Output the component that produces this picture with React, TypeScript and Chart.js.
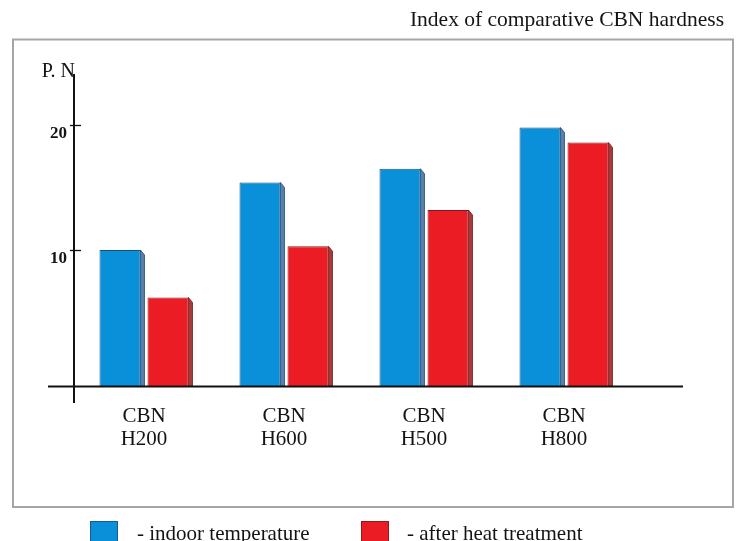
import React, { useEffect, useRef } from "react";
import { Chart, registerables } from "chart.js";

Chart.register(...registerables);

// ---------- data ----------
const TITLE = "Index of comparative CBN hardness";
const Y_AXIS_LABEL = "P. N";
const CATEGORIES = [
  ["CBN", "H200"],
  ["CBN", "H600"],
  ["CBN", "H500"],
  ["CBN", "H800"],
];
const SERIES_NAMES = ["- indoor temperature", "- after heat treatment"];
const INDOOR = [10.0, 15.4, 16.5, 19.8];
const AFTER_HEAT = [6.2, 10.3, 13.2, 18.6];
const Y_TICKS = [10, 20];
const Y_MIN = -2.16;
const Y_MAX = 24;
const BAR_BASE = -0.88;

// ---------- style ----------
const FONT = "'Liberation Serif', 'Times New Roman', Times, serif";
const FACE_COLORS = ["#0a8fd9", "#ec1c24"];
const EDGE_COLORS = ["#1d4f7e", "#7d1b1b"];
const SIDE_COLORS = ["#5a7fa8", "#a8393a"];
const TEXT_COLOR = "#141414";

export default function App() {
  const ref = useRef<HTMLCanvasElement>(null);

  useEffect(() => {
    const canvas = ref.current;
    if (!canvas) return;

    const framePlugin = {
      id: "frame",
      beforeDraw(chart: any) {
        const ctx = chart.ctx;
        ctx.save();
        ctx.fillStyle = "#ffffff";
        ctx.fillRect(0, 0, chart.width, chart.height);
        ctx.strokeStyle = "#a6a6a6";
        ctx.lineWidth = 2;
        ctx.strokeRect(13, 39.5, 720, 467.5);
        ctx.restore();
      },
    };

    const decorPlugin = {
      id: "decor",
      afterDatasetsDraw(chart: any) {
        const ctx = chart.ctx;
        const area = chart.chartArea;
        const ys = chart.scales.y;
        const D = 4;
        // 3D side faces of bars
        chart.data.datasets.forEach((ds: any, di: number) => {
          const meta = chart.getDatasetMeta(di);
          meta.data.forEach((el: any) => {
            const p = el.getProps(["x", "y", "base", "width"], true);
            const r = p.x + p.width / 2;
            ctx.save();
            ctx.beginPath();
            ctx.moveTo(r, p.y);
            ctx.lineTo(r + D, p.y + D + 1);
            ctx.lineTo(r + D, p.base);
            ctx.lineTo(r, p.base);
            ctx.closePath();
            ctx.fillStyle = SIDE_COLORS[di];
            ctx.fill();
            ctx.strokeStyle = EDGE_COLORS[di];
            ctx.lineWidth = 0.8;
            ctx.stroke();
            ctx.restore();
          });
        });
        // baseline (x axis line)
        const by = Math.round(ys.getPixelForValue(BAR_BASE)) + 0.5;
        ctx.save();
        ctx.strokeStyle = "#111";
        ctx.lineWidth = 2;
        ctx.beginPath();
        ctx.moveTo(area.left - 26, by);
        ctx.lineTo(area.right + 49, by);
        ctx.stroke();
        // y tick marks crossing the axis
        ctx.lineWidth = 1.3;
        ys.ticks.forEach((t: any) => {
          const py = Math.round(ys.getPixelForValue(t.value)) + 0.5;
          ctx.beginPath();
          ctx.moveTo(area.left - 4, py);
          ctx.lineTo(area.left + 7, py);
          ctx.stroke();
        });
        // axis unit label
        ctx.fillStyle = TEXT_COLOR;
        ctx.font = `20px ${FONT}`;
        ctx.textAlign = "right";
        ctx.textBaseline = "alphabetic";
        ctx.fillText(Y_AXIS_LABEL, area.left + 1, area.top + 2);
        ctx.restore();
      },
      afterDraw(chart: any) {
        // legend below the frame
        const ctx = chart.ctx;
        const boxX = [90, 361];
        const textX = [137, 407];
        ctx.save();
        chart.data.datasets.forEach((ds: any, i: number) => {
          ctx.fillStyle = FACE_COLORS[i];
          ctx.fillRect(boxX[i], 521, 28, 28);
          ctx.strokeStyle = EDGE_COLORS[i];
          ctx.lineWidth = 0.8;
          ctx.strokeRect(boxX[i] + 0.5, 521.5, 27, 27);
          ctx.fillStyle = TEXT_COLOR;
          ctx.font = `21px ${FONT}`;
          ctx.textAlign = "left";
          ctx.textBaseline = "alphabetic";
          ctx.fillText(ds.label, textX[i], 540);
        });
        ctx.restore();
      },
    };

    const chart = new Chart(canvas, {
      type: "bar",
      data: {
        labels: CATEGORIES,
        datasets: [
          {
            label: SERIES_NAMES[0],
            data: INDOOR,
            backgroundColor: FACE_COLORS[0],
            borderColor: EDGE_COLORS[0],
            borderWidth: 1,
            base: BAR_BASE,
            categoryPercentage: 0.686,
            barPercentage: 0.854,
            yAxisID: "y",
          },
          {
            label: SERIES_NAMES[1],
            data: AFTER_HEAT,
            backgroundColor: FACE_COLORS[1],
            borderColor: EDGE_COLORS[1],
            borderWidth: 1,
            base: BAR_BASE,
            categoryPercentage: 0.686,
            barPercentage: 0.854,
            yAxisID: "y",
          },
        ],
      },
      options: {
        responsive: false,
        animation: false,
        events: [],
        layout: { padding: { left: 12, right: 15, top: 0, bottom: 0 } },
        plugins: {
          legend: { display: false },
          tooltip: { enabled: false },
          title: {
            display: true,
            text: TITLE,
            align: "end",
            color: TEXT_COLOR,
            font: { family: FONT, size: 21.5, weight: "normal", lineHeight: 1.2 },
            padding: { top: 7.5, bottom: 41.7 },
          },
        },
        scales: {
          x: {
            type: "category",
            offset: true,
            grid: { display: true, drawOnChartArea: false, drawTicks: false },
            border: { display: false },
            ticks: {
              color: TEXT_COLOR,
              font: { family: FONT, size: 21, lineHeight: 1.1 },
              padding: 2.5,
              maxRotation: 0,
              autoSkip: false,
            },
            afterFit: (s: any) => {
              s.height = 139;
            },
          },
          y: {
            type: "linear",
            position: "left",
            min: Y_MIN,
            max: Y_MAX,
            afterBuildTicks: (s: any) => {
              s.ticks = Y_TICKS.map((v) => ({ value: v }));
            },
            afterFit: (s: any) => {
              s.width = 62;
            },
            grid: { display: true, drawOnChartArea: false, drawTicks: false },
            border: { display: true, color: "#111", width: 2 },
            ticks: {
              color: TEXT_COLOR,
              font: { family: FONT, size: 17, weight: "bold" },
              padding: 7,
              labelOffset: 9,
            },
          },
          yR: {
            type: "linear",
            position: "right",
            display: true,
            grid: { display: false },
            border: { display: false },
            ticks: { display: false },
            afterFit: (s: any) => {
              s.width = 90;
            },
          },
        },
      },
      plugins: [framePlugin, decorPlugin],
    } as any);

    return () => chart.destroy();
  }, []);

  return (
    <div
      style={{
        position: "fixed",
        left: 0,
        top: 0,
        width: 739,
        height: 541,
        overflow: "hidden",
        background: "#fff",
      }}
    >
      <canvas ref={ref} width={739} height={541} style={{ display: "block" }} />
    </div>
  );
}
